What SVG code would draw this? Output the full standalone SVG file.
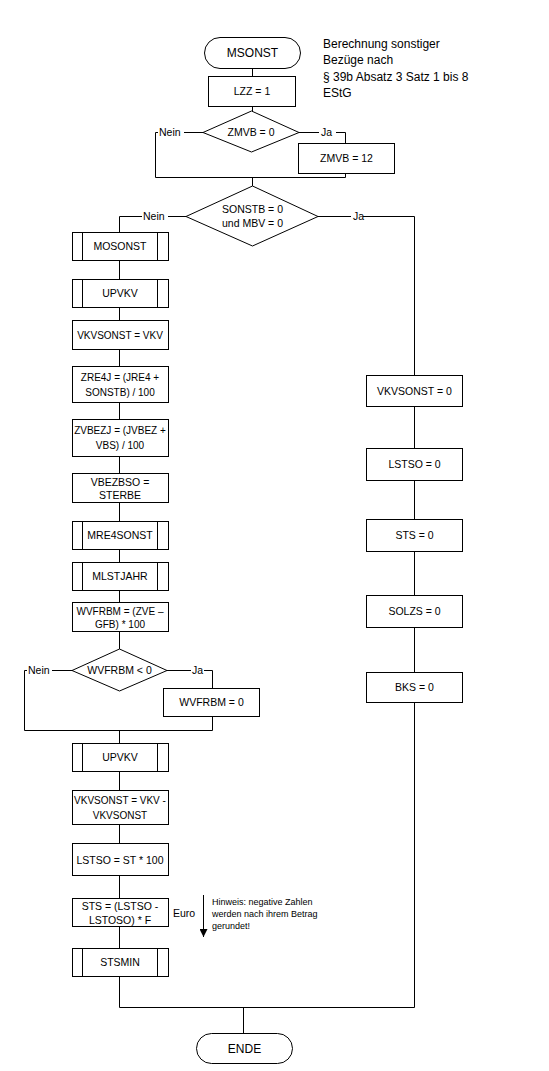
<svg xmlns="http://www.w3.org/2000/svg" width="549" height="1071" viewBox="0 0 549 1071">
<style>
.s{fill:#fff;stroke:#000;stroke-width:1}
.c{fill:none;stroke:#000;stroke-width:1}
text{font-family:"Liberation Sans",Arial,sans-serif;font-size:10.5px;fill:#000}
.m{text-anchor:middle}
.n{font-size:12px}
.h{font-size:9px}
.t{font-size:10px}
</style>
<defs>
<marker id="ah" markerWidth="8" markerHeight="8" refX="8" refY="4" orient="auto" markerUnits="userSpaceOnUse">
<path d="M0,0 L8,4 L0,8 z" fill="#000"/>
</marker>
</defs>
<rect width="549" height="1071" fill="#fff"/>
<g id="connectors">
<path class="c" d="M252.5,69 V76 M252.5,107 V111"/>
<path class="c" d="M203,132.5 H184 M158,132.5 H155.5 V177.5 H345.5 V174 M299,132.5 H319 M336,132.5 H345.5 V143"/>
<path class="c" d="M252.5,177.5 V186"/>
<path class="c" d="M186,216.5 H168 M142,216.5 H119.5 V232 M318,216.5 H351 M363,216.5 H414.5 V375"/>
<path class="c" d="M119.5,261 V279 M119.5,308 V320 M119.5,350 V366 M119.5,403 V419 M119.5,457 V473 M119.5,503 V521 M119.5,550 V562 M119.5,591 V602 M119.5,632 V649"/>
<path class="c" d="M72,670.5 H52 M27,670.5 H24.5 V730.5 H212.5 V717 M167,670.5 H191 M204,670.5 H212.5 V688"/>
<path class="c" d="M119.5,730.5 V743 M119.5,772 V790 M119.5,825 V843 M119.5,876 V898 M119.5,927 V948 M119.5,977 V1007.5 H414.5 V703 M414.5,407 V448 M414.5,481 V519 M414.5,552 V595 M414.5,628 V672"/>
<path class="c" d="M243.5,1007.5 V1033"/>
<path class="c" d="M203.5,895 V937" marker-end="url(#ah)"/>
</g>
<g id="labels">
<text x="159" y="136">Nein</text>
<text x="321" y="136">Ja</text>
<text x="143" y="220">Nein</text>
<text x="353" y="220">Ja</text>
<text x="28" y="674">Nein</text>
<text x="192" y="674">Ja</text>
<text x="173" y="917">Euro</text>
</g>
<g id="note-title">
<text class="n" x="323" y="48">Berechnung sonstiger</text>
<text class="n" x="323" y="64">Bezüge nach</text>
<text class="n" x="323" y="81">§ 39b Absatz 3 Satz 1 bis 8</text>
<text class="n" x="323" y="97">EStG</text>
</g>
<g id="note-hinweis">
<text class="h" x="212" y="905">Hinweis: negative Zahlen</text>
<text class="h" x="212" y="917">werden nach ihrem Betrag</text>
<text class="h" x="212" y="929">gerundet!</text>
</g>
<g id="start"><rect class="s" x="204.5" y="37.5" width="96" height="31" rx="15.5"/><text class="m n" x="252.5" y="57">MSONST</text></g>
<g id="lzz"><rect class="s" x="208.5" y="76.5" width="87" height="30"/><text class="m" x="252" y="95">LZZ = 1</text></g>
<g id="d-zmvb"><path class="s" d="M251.5,111 L299,132.5 L251.5,152 L203,132.5 Z"/><text class="m" x="251" y="136">ZMVB = 0</text></g>
<g id="zmvb12"><rect class="s" x="298.5" y="143.5" width="96" height="30"/><text class="m" x="346.5" y="162">ZMVB = 12</text></g>
<g id="d-sonstb"><path class="s" d="M252.5,186 L318,216.5 L252.5,246 L186,216.5 Z"/><text class="m" x="252.5" y="213">SONSTB = 0</text><text class="m" x="252.5" y="227">und MBV = 0</text></g>
<g id="mosonst"><rect class="s" x="72.5" y="232.5" width="96" height="28"/><path class="c" d="M82.5,232.5 V260.5 M157.5,232.5 V260.5"/><text class="m" x="120" y="250">MOSONST</text></g>
<g id="upvkv1"><rect class="s" x="72.5" y="279.5" width="96" height="28"/><path class="c" d="M82.5,279.5 V307.5 M157.5,279.5 V307.5"/><text class="m" x="120" y="297">UPVKV</text></g>
<g id="vkvsonst1"><rect class="s" x="72.5" y="320.5" width="96" height="29"/><text class="m t" x="120" y="339">VKVSONST = VKV</text></g>
<g id="zre4j"><rect class="s" x="72.5" y="366.5" width="96" height="36"/><text class="m t" x="120" y="381">ZRE4J = (JRE4 +</text><text class="m t" x="120" y="396">SONSTB) / 100</text></g>
<g id="zvbezj"><rect class="s" x="72.5" y="419.5" width="96" height="37"/><text class="m t" x="120" y="434">ZVBEZJ = (JVBEZ +</text><text class="m t" x="120" y="449">VBS) / 100</text></g>
<g id="vbezbso"><rect class="s" x="72.5" y="473.5" width="96" height="29"/><text class="m" x="120" y="486">VBEZBSO =</text><text class="m" x="120" y="499">STERBE</text></g>
<g id="mre4sonst"><rect class="s" x="72.5" y="521.5" width="96" height="28"/><path class="c" d="M82.5,521.5 V549.5 M157.5,521.5 V549.5"/><text class="m" x="120" y="539">MRE4SONST</text></g>
<g id="mlstjahr"><rect class="s" x="72.5" y="562.5" width="96" height="28"/><path class="c" d="M82.5,562.5 V590.5 M157.5,562.5 V590.5"/><text class="m" x="120" y="580">MLSTJAHR</text></g>
<g id="wvfrbm"><rect class="s" x="72.5" y="602.5" width="96" height="29"/><text class="m t" x="120" y="615">WVFRBM = (ZVE –</text><text class="m t" x="120" y="628">GFB) * 100</text></g>
<g id="d-wvfrbm"><path class="s" d="M119.5,649 L167,670.5 L119.5,691 L72,670.5 Z"/><text class="m" x="119.5" y="674">WVFRBM &lt; 0</text></g>
<g id="wvfrbm0"><rect class="s" x="163.5" y="688.5" width="96" height="28"/><text class="m" x="211.5" y="706">WVFRBM = 0</text></g>
<g id="upvkv2"><rect class="s" x="72.5" y="743.5" width="96" height="28"/><path class="c" d="M82.5,743.5 V771.5 M157.5,743.5 V771.5"/><text class="m" x="120" y="761">UPVKV</text></g>
<g id="vkvsonst2"><rect class="s" x="72.5" y="790.5" width="96" height="34"/><text class="m t" x="120" y="804">VKVSONST = VKV -</text><text class="m t" x="120" y="819">VKVSONST</text></g>
<g id="lstso"><rect class="s" x="72.5" y="843.5" width="96" height="32"/><text class="m" x="120" y="864">LSTSO = ST * 100</text></g>
<g id="sts"><rect class="s" x="72.5" y="898.5" width="96" height="28"/><text class="m" x="120" y="910">STS = (LSTSO -</text><text class="m" x="120" y="924">LSTOSO) * F</text></g>
<g id="stsmin"><rect class="s" x="72.5" y="948.5" width="96" height="28"/><path class="c" d="M82.5,948.5 V976.5 M157.5,948.5 V976.5"/><text class="m" x="120" y="966">STSMIN</text></g>
<g id="vkvsonst0"><rect class="s" x="366.5" y="375.5" width="96" height="31"/><text class="m" x="414.5" y="395">VKVSONST = 0</text></g>
<g id="lstso0"><rect class="s" x="366.5" y="448.5" width="96" height="32"/><text class="m" x="414.5" y="468">LSTSO = 0</text></g>
<g id="sts0"><rect class="s" x="366.5" y="519.5" width="96" height="32"/><text class="m" x="414.5" y="539">STS = 0</text></g>
<g id="solzs0"><rect class="s" x="366.5" y="595.5" width="96" height="32"/><text class="m" x="414.5" y="615">SOLZS = 0</text></g>
<g id="bks0"><rect class="s" x="366.5" y="672.5" width="96" height="30"/><text class="m" x="414.5" y="691">BKS = 0</text></g>
<g id="ende"><rect class="s" x="196.5" y="1033.5" width="96" height="30" rx="15"/><text class="m n" x="244.5" y="1053">ENDE</text></g>
</svg>
